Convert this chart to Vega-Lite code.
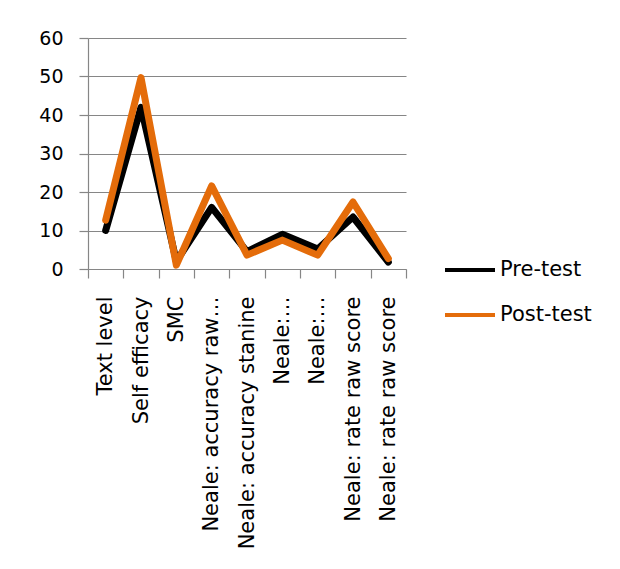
{
  "$schema": "https://vega.github.io/schema/vega-lite/v6.json",
  "width": 318,
  "height": 231,
  "autosize": {"type": "none"},
  "padding": {"left": 88, "top": 38, "right": 214, "bottom": 300},
  "background": "white",
  "data": {
    "values": [
      {"measure": "Text level", "test": "Pre-test", "score": 10},
      {"measure": "Self efficacy", "test": "Pre-test", "score": 42},
      {"measure": "SMC", "test": "Pre-test", "score": 2},
      {"measure": "Neale: accuracy  raw score", "test": "Pre-test", "score": 16},
      {"measure": "Neale: accuracy stanine", "test": "Pre-test", "score": 4.5},
      {"measure": "Neale: comprehension raw score", "test": "Pre-test", "score": 9},
      {"measure": "Neale: comprehension stanine", "test": "Pre-test", "score": 5.2},
      {"measure": "Neale: rate raw score", "test": "Pre-test", "score": 13.5},
      {"measure": "Neale: rate stanine", "test": "Pre-test", "score": 1.8},
      {"measure": "Text level", "test": "Post-test", "score": 12.7},
      {"measure": "Self efficacy", "test": "Post-test", "score": 49.7},
      {"measure": "SMC", "test": "Post-test", "score": 1},
      {"measure": "Neale: accuracy  raw score", "test": "Post-test", "score": 21.6},
      {"measure": "Neale: accuracy stanine", "test": "Post-test", "score": 3.6},
      {"measure": "Neale: comprehension raw score", "test": "Post-test", "score": 7.5},
      {"measure": "Neale: comprehension stanine", "test": "Post-test", "score": 3.6},
      {"measure": "Neale: rate raw score", "test": "Post-test", "score": 17.4},
      {"measure": "Neale: rate stanine", "test": "Post-test", "score": 2.7}
    ]
  },
  "encoding": {
    "x": {
      "field": "measure",
      "type": "nominal",
      "sort": null,
      "scale": {"type": "band", "paddingInner": 0, "paddingOuter": 0},
      "axis": {
        "title": null,
        "labelAngle": -90,
        "labelAlign": "right",
        "labelBaseline": "middle",
        "labelFont": "DejaVu Sans",
        "labelFontSize": 21,
        "labelColor": "#000000",
        "labelPadding": 18,
        "labelLimit": 400,
        "tickBand": "extent",
        "tickSize": 9,
        "tickColor": "#868686",
        "domainColor": "#868686",
        "grid": false,
        "labelExpr": "datum.value === 'Neale: accuracy  raw score' ? 'Neale: accuracy  raw…' : (datum.value === 'Neale: comprehension raw score' || datum.value === 'Neale: comprehension stanine') ? 'Neale:…' : datum.value === 'Neale: rate stanine' ? 'Neale: rate raw score' : datum.value"
      }
    },
    "y": {
      "field": "score",
      "type": "quantitative",
      "scale": {"domain": [0, 60], "nice": false, "zero": true},
      "axis": {
        "title": null,
        "values": [0, 10, 20, 30, 40, 50, 60],
        "labelFont": "DejaVu Sans",
        "labelFontSize": 19,
        "labelColor": "#000000",
        "labelPadding": 16,
        "tickSize": 9,
        "tickColor": "#868686",
        "domainColor": "#868686",
        "gridColor": "#868686",
        "gridWidth": 1.2
      }
    },
    "color": {
      "field": "test",
      "type": "nominal",
      "scale": {"domain": ["Pre-test", "Post-test"], "range": ["#000000", "#E46C0A"]},
      "legend": {
        "title": null,
        "orient": "none",
        "legendX": 355,
        "legendY": 205,
        "symbolType": "stroke",
        "symbolSize": 2500,
        "symbolStrokeWidth": 4,
        "labelFont": "DejaVu Sans",
        "labelFontSize": 21,
        "labelColor": "#000000",
        "labelOffset": 3,
        "rowPadding": 8
      }
    }
  },
  "layer": [
    {
      "transform": [{"filter": "datum.test === 'Pre-test'"}],
      "mark": {"type": "line", "strokeWidth": 7, "strokeJoin": "round", "strokeCap": "round"}
    },
    {
      "transform": [{"filter": "datum.test === 'Post-test'"}],
      "mark": {"type": "line", "strokeWidth": 7, "strokeJoin": "round", "strokeCap": "round"}
    }
  ],
  "config": {
    "view": {"stroke": null},
    "axis": {"domainWidth": 1.2, "tickWidth": 1.2}
  }
}
